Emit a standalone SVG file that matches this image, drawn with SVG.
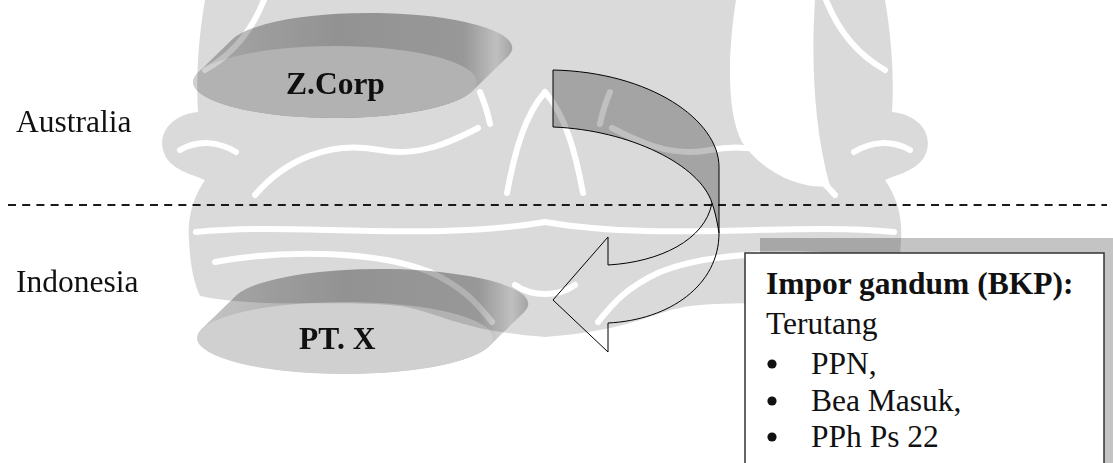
<svg xmlns="http://www.w3.org/2000/svg" width="1113" height="463" viewBox="0 0 1113 463">
  <defs>
    <style>
      .lbl { font-family: "Liberation Serif", "Times New Roman", serif; font-size: 31.5px; fill: #111; }
      .bold { font-weight: bold; }
      .wm { fill: #dadada; }
      .wml { fill: none; stroke: #ffffff; stroke-width: 6; stroke-linecap: round; stroke-linejoin: round; }
      .mul { mix-blend-mode: multiply; }
      .face { fill: #d0d0d0; }
      .edge { fill: none; stroke: #000; stroke-width: 1; }
    </style>
    <linearGradient id="side" x1="0" y1="0" x2="1" y2="0">
      <stop offset="0" stop-color="#c4c4c4"/>
      <stop offset="0.45" stop-color="#ababab"/>
      <stop offset="0.85" stop-color="#b2b2b2"/>
      <stop offset="0.95" stop-color="#e0e0e0"/>
      <stop offset="1" stop-color="#c0c0c0"/>
    </linearGradient>
    <!-- left half of the background emblem; the right half is its mirror image -->
    <g id="emblemHalf">
      <path class="wm" d="M545,0 H205 C198,40 196,80 198,112 C175,114 158,130 163,150 C168,170 192,174 205,180 C194,196 187,216 189,240 C190,265 194,283 200,296 C260,309 340,299 400,306 C440,312 455,330 545,337 Z"/>
      <path class="wml" d="M196,232 C300,222 430,242 545,222"/>
      <path class="wml" d="M215,262 C290,248 380,252 430,272 C465,288 478,305 492,322"/>
      <path class="wml" d="M255,195 C285,160 330,140 380,150 C420,158 455,140 478,128"/>
      <path class="wml" d="M507,193 C515,150 525,115 545,92"/>
      <path class="wml" d="M264,0 C252,30 232,55 205,70"/>
      <path class="wml" d="M480,92 C485,104 488,114 490,124"/>
      <path class="wml" d="M180,150 C198,140 218,141 236,152"/>
      <path class="wml" d="M515,285 C525,292 535,294 545,294"/>
    </g>
  </defs>

  <rect width="1113" height="463" fill="#ffffff"/>

  <!-- faint emblem in the background -->
  <g id="emblem">
    <use href="#emblemHalf"/>
    <use href="#emblemHalf" transform="translate(1090,0) scale(-1,1)"/>
    <path fill="#ffffff" d="M736,0 H815 C811,60 814,130 830,186 C800,190 762,172 742,142 C726,112 728,50 736,0 Z"/>
  </g>

  <!-- region labels and border line -->
  <g id="regions">
    <text class="lbl" x="16" y="132">Australia</text>
    <text class="lbl" x="16" y="292">Indonesia</text>
    <line x1="8" y1="205" x2="1107" y2="205" stroke="#1a1a1a" stroke-width="2.2" stroke-dasharray="8 6.2"/>
  </g>

  <!-- supplier disk -->
  <g id="zcorp" class="mul">
    <path fill="url(#side)" d="M197.6,72.9 L232.6,38.9 A142,35 0 0 1 507.4,57.1 L472.4,91.1 A142,36 0 0 1 197.6,72.9 Z"/>
    <ellipse class="face" cx="335" cy="82" rx="142" ry="36"/>
    <text class="lbl bold" x="286" y="94">Z.Corp</text>
  </g>

  <!-- importer disk -->
  <g id="ptx" class="mul">
    <path fill="url(#side)" d="M201.4,329.3 L236.4,295.3 A148,35 0 0 1 523.6,312.7 L488.6,346.7 A148,36 0 0 1 201.4,329.3 Z"/>
    <ellipse class="face" cx="345" cy="338" rx="148" ry="36"/>
    <text class="lbl bold" x="299" y="349">PT. X</text>
  </g>

  <!-- flow of goods -->
  <g id="connectors">
    <path class="mul" fill="#c0c0c0" d="M553,70 C650,72 719,120 719,167 L719,233 Q716,214 712,203 C700,165 630,130 553,127 Z"/>
    <path class="edge" d="M553,70 C650,72 719,120 719,167 L719,233 Q716,214 712,203 C700,165 630,130 553,127 Z"/>
    <path class="edge" d="M712,203 C705,240 660,262 608,265 L608,237 L553,300 L608,352 L608,323 C670,320 719,285 719,233"/>
  </g>

  <!-- import note -->
  <g id="note">
    <rect class="mul" x="760" y="238" width="360" height="240" fill="#c4c4c4"/>
    <rect x="745" y="253" width="359" height="230" fill="#ffffff" stroke="#333" stroke-width="1.5"/>
    <text class="lbl bold" x="766" y="294">Impor gandum (BKP):</text>
    <text class="lbl" x="766" y="334">Terutang</text>
    <circle cx="772" cy="364" r="4.6" fill="#111"/>
    <text class="lbl" x="811" y="374">PPN,</text>
    <circle cx="772" cy="401" r="4.6" fill="#111"/>
    <text class="lbl" x="811" y="411">Bea Masuk,</text>
    <circle cx="772" cy="437" r="4.6" fill="#111"/>
    <text class="lbl" x="811" y="447">PPh Ps 22</text>
  </g>
</svg>
